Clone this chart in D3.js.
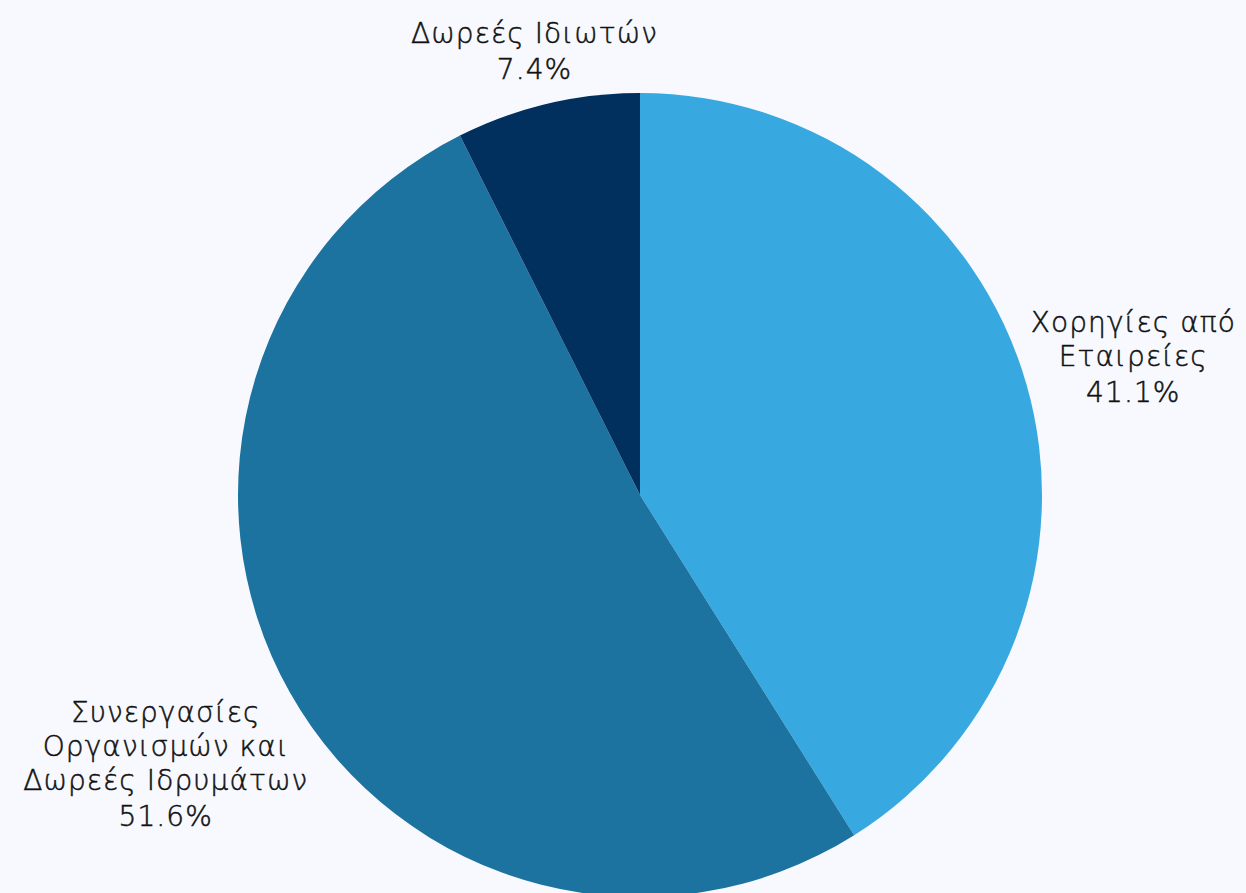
<!DOCTYPE html>
<html>
<head>
<meta charset="utf-8">
<script src="https://cdn.jsdelivr.net/npm/d3@7"></script>
<style>
  html, body { margin: 0; padding: 0; background: #f7f9fe; }
  svg { display: block; }
  .lbl { font-family: "DejaVu Sans", sans-serif; font-size: 28px; font-weight: 200; letter-spacing: 1.1px;
         fill: #111; stroke: #111; stroke-width: 0.5px; }
</style>
</head>
<body>
<svg id="chart" width="1246" height="893"></svg>
<script>
// data
const categories = [
    ["Χορηγίες από", "Εταιρείες"],
    ["Συνεργασίες", "Οργανισμών και", "Δωρεές Ιδρυμάτων"],
    ["Δωρεές Ιδιωτών"]
];
const shares = [41.1, 51.6, 7.4];
const colours = ["#38a9e0", "#1c739f", "#02305e"];

// label nudges (px) from the label ring
const nudges = [[53, -12], [-75, 43], [0, 1]];

const width = 1246, height = 893;
const cx = 640, cy = 495, radius = 402;

let svg = d3.select("#chart");

let pie = d3.pie().sort(null).value(d => d.value);
let arc = d3.arc().innerRadius(0).outerRadius(radius);
let labelArc = d3.arc().innerRadius(radius * 1.14).outerRadius(radius * 1.14);

let rows = shares.map((v, i) => ({ value: v, name: categories[i], colour: colours[i], nudge: nudges[i] }));

let g = svg.append("g").attr("transform", `translate(${cx},${cy})`);

g.selectAll("path")
    .data(pie(rows))
    .enter().append("path")
    .attr("d", arc)
    .attr("fill", d => d.data.colour);

// labels: name lines + percent
const lineH = 34;
let labels = g.selectAll("text")
    .data(pie(rows))
    .enter().append("text")
    .attr("class", "lbl")
    .attr("text-anchor", "middle")
    .attr("transform", d => {
        let c = labelArc.centroid(d);
        let n = d.data.name.length + 1;
        let top = c[1] + d.data.nudge[1] - (n - 1) * lineH / 2;
        return `translate(${c[0] + d.data.nudge[0]},${top})`;
    });

labels.each(function (d) {
    let t = d3.select(this);
    d.data.name.forEach((line, i) => {
        t.append("tspan").attr("x", 0).attr("y", i * lineH).attr("dy", "0.35em").text(line);
    });
    t.append("tspan")
        .attr("x", 0)
        .attr("y", d.data.name.length * lineH + 2)
        .attr("dy", "0.35em")
        .text(d.data.value.toFixed(1) + "%");
});
</script>
</body>
</html>
